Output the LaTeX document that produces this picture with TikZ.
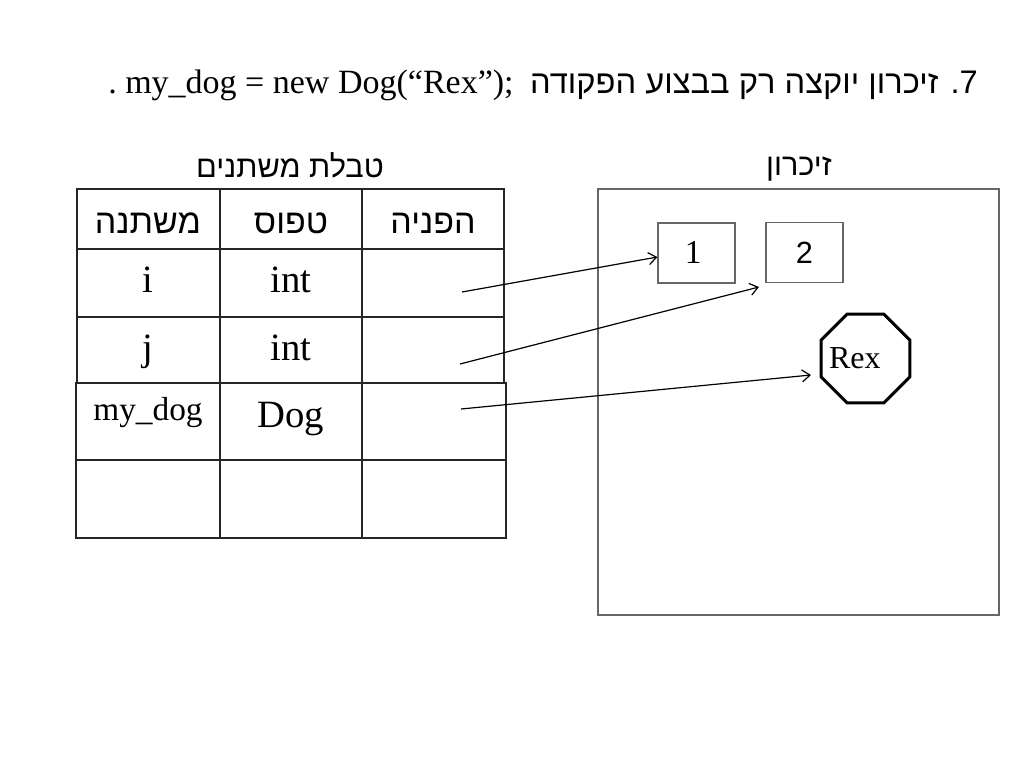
\documentclass[tikz,border=0pt]{standalone}
\usepackage{fontspec}
\setmainfont{Liberation Serif}
\newfontfamily\heb[Script=Hebrew]{Liberation Sans}
\newfontfamily\arial{Liberation Sans}
\TeXXeTstate=1
\usetikzlibrary{shapes.geometric,arrows.meta}
\begin{document}
\begin{tikzpicture}[x=0.75pt,y=-0.75pt,
  tbl/.style={line width=1.1pt,draw=black!85},
  memline/.style={line width=0.8pt,draw=black!60},
  cell/.style={anchor=base,inner sep=0pt},
  cellbig/.style={cell,font=\fontsize{29}{33}\selectfont},
  hdr/.style={cell,font=\heb\fontsize{25.5}{29}\selectfont},
  ttl/.style={inner sep=0pt,font=\heb\fontsize{23}{27}\selectfont},
  membox/.style={draw=black!60,line width=0.8pt,minimum width=57.75pt,minimum height=45pt,inner sep=0pt},
  ptr/.style={-{Straight Barb[length=6pt,width=9pt]},line width=0.9pt}]
\useasboundingbox (0,0) rectangle (1024,768);
\fill[white] (0,0) rectangle (1024,768);

% title line
\node[anchor=base west,inner sep=0pt,font=\fontsize{25.5}{29}\selectfont] (tl) at (108,93) {.\ my\_dog = new Dog(“Rex”);};
\node[anchor=base east,inner sep=0pt,font=\heb\fontsize{24.5}{28}\selectfont] (tr) at (978,93) {\beginR 7. זיכרון יוקצה רק בבצוע הפקודה\endR};

% captions
\node[ttl,anchor=base] (tcap) at (290,177) {\beginR טבלת משתנים\endR};
\node[ttl,anchor=base] (mcap) at (799,175) {\beginR זיכרון\endR};

% table upper part
\draw[tbl] (77,383) -- (77,189) -- (504,189) -- (504,383);
\draw[tbl] (220,189) -- (220,383);
\draw[tbl] (362,189) -- (362,383);
\draw[tbl] (77,249) -- (504,249);
\draw[tbl] (77,317) -- (504,317);
% table lower part
\draw[tbl] (76,383) rectangle (506,538);
\draw[tbl] (76,460) -- (506,460);
\draw[tbl] (220,383) -- (220,538);
\draw[tbl] (362,383) -- (362,538);

% header
\node[hdr] (h1) at (148,233) {\beginR משתנה\endR};
\node[hdr] (h2) at (291,233) {\beginR טפוס\endR};
\node[hdr] (h3) at (433,233) {\beginR הפניה\endR};
% rows
\node[cellbig] (v1) at (148,292) {i};
\node[cellbig] (t1) at (291,292) {int};
\node[cellbig] (v2) at (148,360) {j};
\node[cellbig] (t2) at (291,360) {int};
\node[cell,font=\fontsize{25}{29}\selectfont] (v3) at (148,420) {my\_dog};
\node[cellbig] (t3) at (291,427) {Dog};

% memory
\draw[memline] (598,189) rectangle (999,615);
\node[membox,font=\fontsize{25}{29}\selectfont] (b1) at (696.5,253) {\raisebox{1.5pt}{1}\hspace*{5pt}};
\node[membox,font=\arial\fontsize{23}{27}\selectfont] (b2) at (804.5,252.5) {2};
\node[draw=black,line width=2.2pt,regular polygon,regular polygon sides=8,minimum size=72pt,inner sep=0pt,font=\fontsize{24}{28}\selectfont] (rex) at (865.5,358.5) {\makebox[0pt][c]{\raisebox{-2pt}{Rex}\hspace*{16pt}}};

% pointers
\coordinate (p1) at (462,292);
\coordinate (p2) at (460,364);
\coordinate (p3) at (461,409);
\coordinate (e2) at (759,287);
\coordinate (e3) at (811,375);
\draw[ptr] (p1) -- (b1.west |- 0,257);
\draw[ptr] (p2) -- (e2);
\draw[ptr] (p3) -- (e3);
\end{tikzpicture}
\end{document}
